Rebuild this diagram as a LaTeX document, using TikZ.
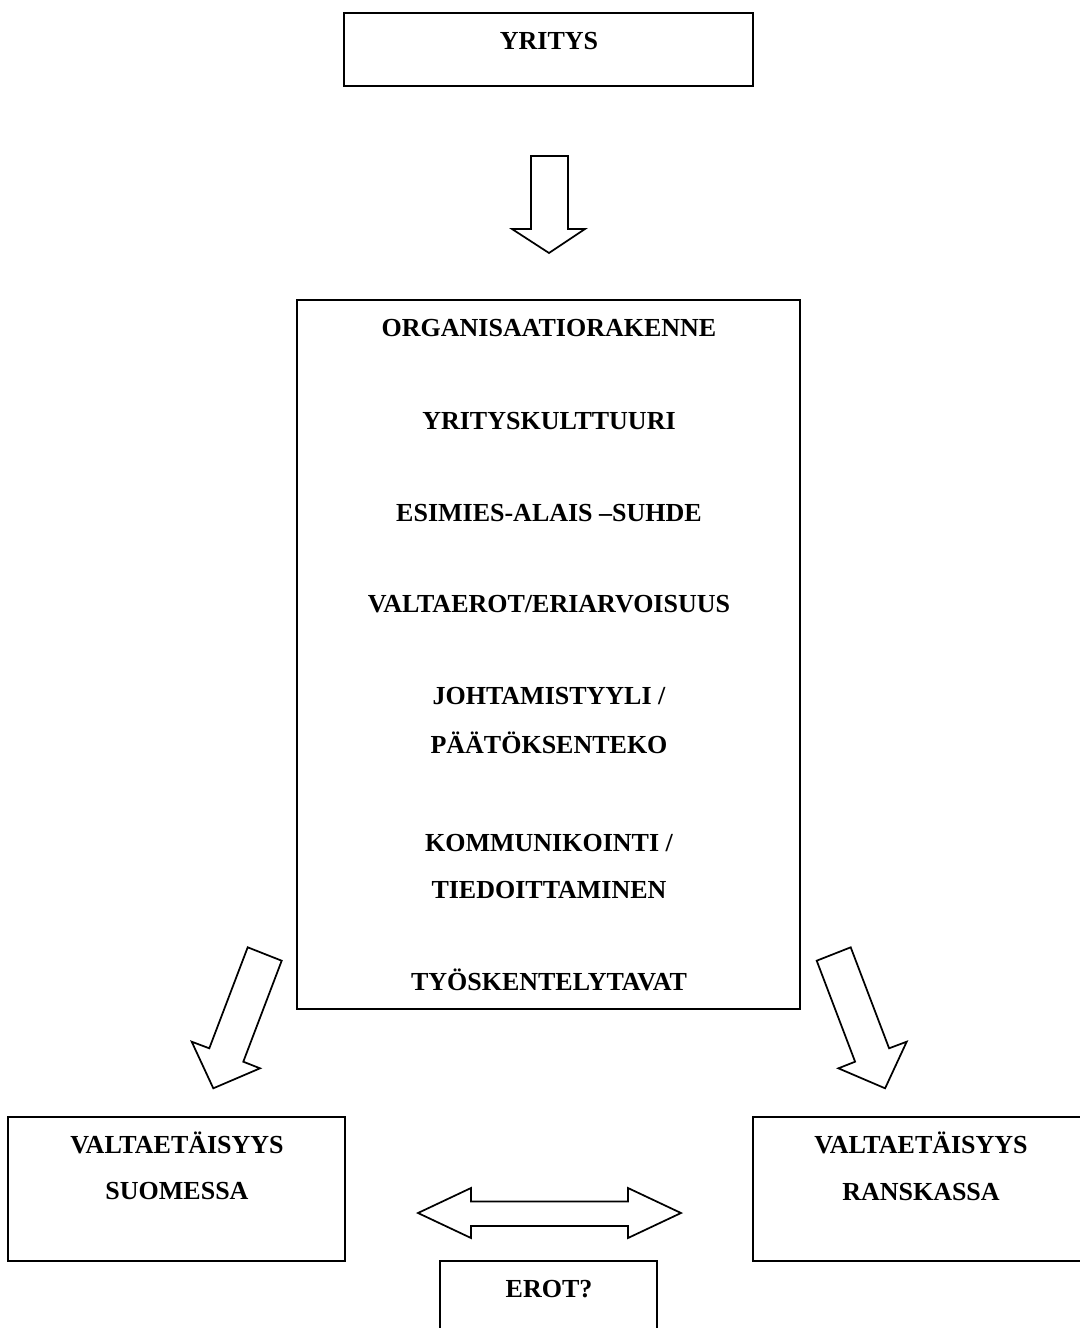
\documentclass[tikz,border=0pt]{standalone}
\usepackage{fontspec}
\setmainfont{Liberation Serif}
\begin{document}
\begin{tikzpicture}[x=0.75pt,y=-0.75pt,
  boxline/.style={draw=black,line width=1.6pt},
  arrowline/.style={draw=black,fill=white,line width=1.3pt,line join=miter},
  lbl/.style={font=\bfseries\fontsize{19.5}{23}\selectfont,inner sep=0pt,anchor=base}]
\fill[white] (0,0) rectangle (1079,1328);
\useasboundingbox (0,0) rectangle (1079,1328);

% boxes
\draw[boxline] (344,13) rectangle (753,86);
\draw[boxline] (297,300) rectangle (800,1009);
\draw[boxline] (8,1117) rectangle (345,1261);
\draw[boxline] (753,1117) rectangle (1090,1261);
\draw[boxline] (440,1261) rectangle (657,1340);

% texts
\node[lbl] (yritys) at (549,49.5) {YRITYS};
\node[lbl] (org) at (549,336.5) {ORGANISAATIORAKENNE};
\node[lbl] (kult) at (549,429.5) {YRITYSKULTTUURI};
\node[lbl] (esim) at (549,521.5) {ESIMIES-ALAIS –SUHDE};
\node[lbl] (valt) at (549,612.5) {VALTAEROT/ERIARVOISUUS};
\node[lbl] (joht) at (549,704.5) {JOHTAMISTYYLI /};
\node[lbl] (paat) at (549,753) {PÄÄTÖKSENTEKO};
\node[lbl] (komm) at (549,851.5) {KOMMUNIKOINTI /};
\node[lbl] (tied) at (549,898.5) {TIEDOITTAMINEN};
\node[lbl] (tyos) at (549,990.5) {TYÖSKENTELYTAVAT};
\node[lbl] (vs1) at (177,1153) {VALTAETÄISYYS};
\node[lbl] (vs2) at (177,1199.5) {SUOMESSA};
\node[lbl] (vr1) at (921,1153) {VALTAETÄISYYS};
\node[lbl] (vr2) at (921,1200.5) {RANSKASSA};
\node[lbl] (erot) at (549,1297.5) {EROT?};

% down arrow
\draw[arrowline] (531,156) -- (568,156) -- (568,229) -- (585,229) -- (549,253)
  -- (512,229) -- (531,229) -- cycle;

% left diagonal arrow
\draw[arrowline] (247.7,947.3) -- (281.7,960.7) -- (243.3,1061.7) -- (260,1068.3)
  -- (213.3,1088.3) -- (191.7,1041.7) -- (209.3,1048.3) -- cycle;

% right diagonal arrow
\draw[arrowline] (850.7,947.3) -- (816.7,960.7) -- (855.1,1061.7) -- (838.4,1068.3)
  -- (885.1,1088.3) -- (906.7,1041.7) -- (889.1,1048.3) -- cycle;

% double arrow
\draw[arrowline] (418,1213) -- (471,1188) -- (471,1201.5) -- (628,1201.5) -- (628,1188)
  -- (681,1213) -- (628,1238) -- (628,1226) -- (471,1226) -- (471,1238) -- cycle;
\end{tikzpicture}
\end{document}
